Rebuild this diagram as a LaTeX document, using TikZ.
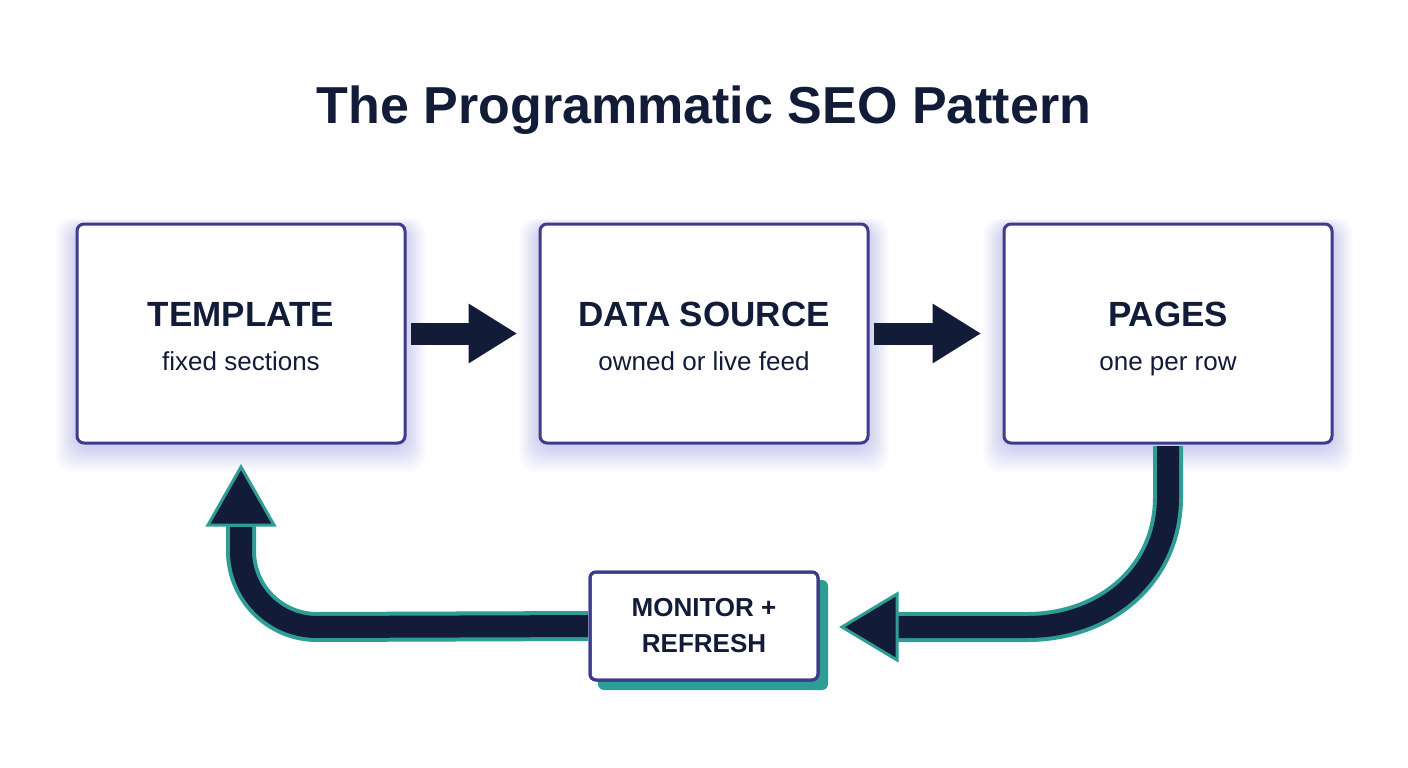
\documentclass[tikz,border=0pt]{standalone}
\usepackage{fontspec}
\setmainfont{Liberation Sans}
\usetikzlibrary{calc}
\definecolor{navy}{HTML}{121C38}
\definecolor{edge}{HTML}{3E3A8C}
\definecolor{teal}{HTML}{2E9E94}
\definecolor{glow}{HTML}{7070F0}
\begin{document}
\begin{tikzpicture}[x=1pt,y=-1pt,
  box/.style={draw=edge,line width=3pt,rounded corners=7pt,fill=white,minimum width=328pt,minimum height=219pt,align=center,inner sep=0pt},
  ttl/.style={font=\fontsize{35}{40}\selectfont\bfseries,text=navy,anchor=base},
  sub/.style={font=\fontsize{26}{30}\selectfont,text=navy,anchor=base},
]
\useasboundingbox (0,0) rectangle (1408,768);
\fill[white] (0,0) rectangle (1408,768);
\node[font=\fontsize{52}{60}\selectfont\bfseries,text=navy] (title) at (704,110) {The Programmatic SEO Pattern};
% glows
\foreach \cx in {241,704,1168}{
  \foreach \k in {1,...,16}{
    \fill[glow,opacity=0.018,rounded corners=16pt] (\cx-164-\k*1.3,228-\k*0.6) rectangle (\cx+164+\k*1.3,446+\k*1.6);
  }
}
\node[box] (tpl) at (241,333.5) {};
\node[box] (ds) at (704,333.5) {};
\node[box] (pg) at (1168,333.5) {};
\node[ttl] (tplt) at (241,326) {TEMPLATE};
\node[sub] (tpls) at (241,370) {fixed sections};
\node[ttl] (dst) at (704,326) {DATA SOURCE};
\node[sub] (dss) at (704,370) {owned or live feed};
\node[ttl] (pgt) at (1168,326) {PAGES};
\node[sub] (pgs) at (1168,370) {one per row};
% straight arrows
\foreach \a/\b/\n in {tpl/ds/1,ds/pg/2}{
  \coordinate (s\n) at ($(\a.east)+(4,0)$);
  \coordinate (h\n) at ($(\b.west)+(-70,0)$);
  \coordinate (t\n) at ($(\b.west)+(-22,0)$);
  \draw[navy,line width=22pt] (s\n) -- ($(h\n)+(2,0)$);
  \fill[navy] ($(h\n)+(0,-30)$) -- (t\n) -- ($(h\n)+(0,30)$) -- cycle;
}
% monitor box
\fill[teal,rounded corners=6pt] (598,580) rectangle (828,690);
\node[draw=edge,line width=3pt,rounded corners=6pt,fill=white,minimum width=228pt,minimum height=108pt,inner sep=0pt,align=center,font=\fontsize{26}{36}\selectfont\bfseries,text=navy] (mon) at (704,626) {MONITOR +\\REFRESH};
% right return arrow
\coordinate (r0) at (1168,446);
\coordinate (rh) at (897,627);
\coordinate (rt) at (842,627);
\draw[teal,line width=30pt] (r0) -- (1168,497) .. controls (1168,575) and (1105,627) .. (1027,627) -- (rh);
\draw[navy,line width=22pt] (r0) -- (1168,497) .. controls (1168,575) and (1105,627) .. (1027,627) -- ($(rh)+(-2,0)$);
\draw[teal,line width=3pt,fill=navy,line join=miter] ($(rh)+(0,-33)$) -- (rt) -- ($(rh)+(0,33)$) -- cycle;
% left arrow
\coordinate (l0) at (mon.west);
\coordinate (lh) at (241,525);
\coordinate (lt) at (241,467);
\begin{scope}
\clip (0,440) rectangle (588,768);
\draw[teal,line width=30pt] ($(l0)+(2,0)$) -- (317,627) .. controls (275,627) and (241,593) .. (241,551) -- (lh);
\draw[navy,line width=22pt] ($(l0)+(10,0)$) -- (317,627) .. controls (275,627) and (241,593) .. (241,551) -- ($(lh)+(0,2)$);
\end{scope}
\draw[teal,line width=3pt,fill=navy,line join=miter] ($(lh)+(-33,0)$) -- (lt) -- ($(lh)+(33,0)$) -- cycle;
\draw[edge,line width=3pt,rounded corners=6pt] (590,572) rectangle (818,680);
\end{tikzpicture}
\end{document}
